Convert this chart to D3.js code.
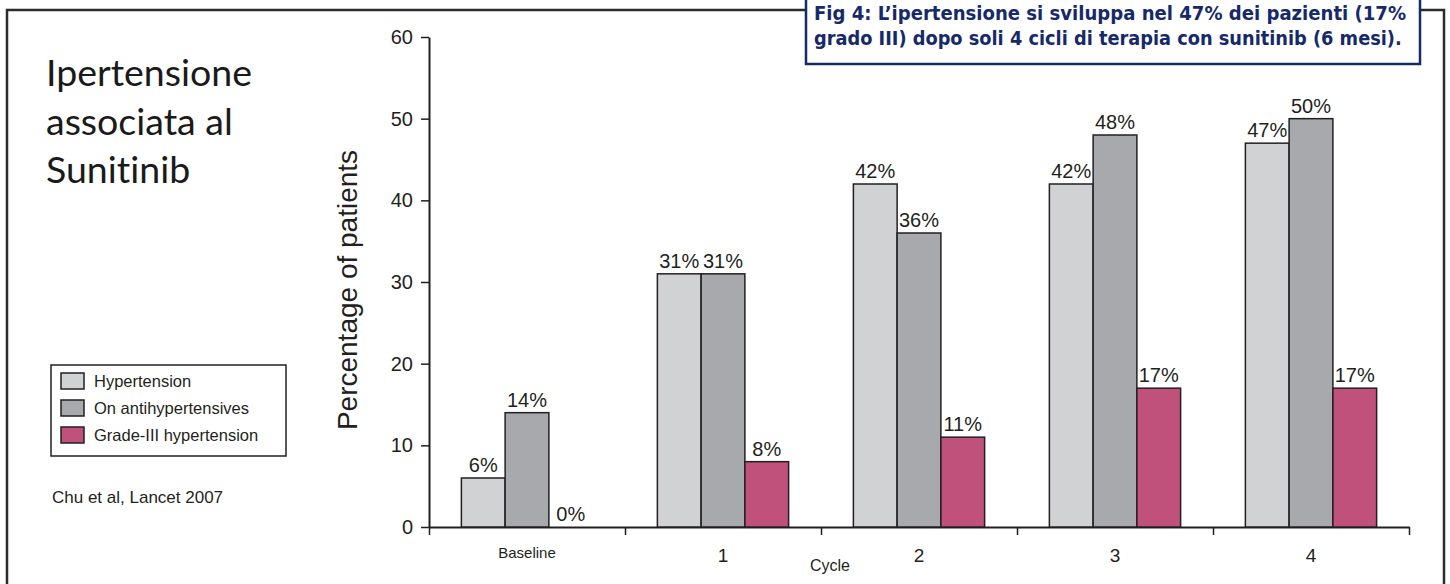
<!DOCTYPE html>
<html>
<head>
<meta charset="utf-8">
<script src="https://cdn.jsdelivr.net/npm/d3@7"></script>
<style>
  html, body { margin: 0; padding: 0; background: #fff; }
  svg { display: block; }
</style>
</head>
<body>
<div id="chart"></div>
<script>
const cycles = ["Baseline", "1", "2", "3", "4"];
const series = ["Hypertension", "On antihypertensives", "Grade-III hypertension"];
const hypertension = [6, 31, 42, 42, 47];
const onAntihyp = [14, 31, 36, 48, 50];
const gradeIII = [0, 8, 11, 17, 17];
const colors = ["#d1d2d4", "#a7a9ac", "#c0517a"];
const yTicks = [0, 10, 20, 30, 40, 50, 60];
const titleLines = ["Ipertensione", "associata al", "Sunitinib"];
const captionLines = [
    "Fig 4: L\u2019ipertensione si sviluppa nel 47% dei pazienti (17%",
    "grado III) dopo soli 4 cicli di terapia con sunitinib (6 mesi)."
];

const W = 1450, H = 584;
const plot = { left: 429, right: 1409, top: 37, bottom: 527 };
const font = "'Liberation Sans', Arial, sans-serif";

const svg = d3.select("#chart").append("svg")
    .attr("width", W)
    .attr("height", H);

svg.append("rect").attr("width", W).attr("height", H).attr("fill", "#fff");

// outer frame
svg.append("rect")
    .attr("x", 7).attr("y", 10)
    .attr("width", 1437).attr("height", 620)
    .attr("fill", "none")
    .attr("stroke", "#2b2b2b")
    .attr("stroke-width", 2.5);

// caption box
svg.append("rect")
    .attr("x", 806).attr("y", -10)
    .attr("width", 614).attr("height", 74)
    .attr("fill", "#fff")
    .attr("stroke", "#16296a")
    .attr("stroke-width", 2.5);

svg.selectAll(".caption")
    .data(captionLines)
    .enter()
    .append("text")
    .attr("x", 814)
    .attr("y", (d, i) => 20 + i * 25)
    .style("font-family", "'DejaVu Sans Condensed', 'DejaVu Sans', sans-serif")
    .style("font-stretch", "condensed")
    .style("font-weight", "bold")
    .style("font-size", "16px")
    .style("fill", "#16296a")
    .text(d => d)
    .each(function (d, i) {
        // fit each line to the box width
        const target = i === 0 ? 592 : 588;
        const len = this.getComputedTextLength();
        const fs = Math.min(20.3, 16 * target / len);
        d3.select(this).style("font-size", fs.toFixed(2) + "px");
    });

// title
svg.selectAll(".title")
    .data(titleLines)
    .enter()
    .append("text")
    .attr("x", 46)
    .attr("y", (d, i) => 86 + i * 48.5)
    .style("font-family", "Lato, 'Noto Sans', sans-serif")
    .style("font-variant-ligatures", "none")
    .style("font-size", "37.5px")
    .style("fill", "#1a1a1a")
    .text(d => d);

// scales
const y = d3.scaleLinear()
    .domain([0, 60])
    .range([plot.bottom, plot.top]);

const x0 = d3.scaleBand()
    .domain(cycles)
    .range([plot.left, plot.right])
    .padding(0);

const x1 = d3.scaleBand()
    .domain(series)
    .range([0, x0.bandwidth()])
    .paddingInner(0)
    .paddingOuter(0.74);

const xb = d3.scaleLinear()
    .domain([0, cycles.length])
    .range([plot.left, plot.right]);

// y axis
const yAxis = svg.append("g")
    .attr("transform", `translate(${plot.left},0)`)
    .call(d3.axisLeft(y).tickValues(yTicks).tickSize(8).tickSizeOuter(0).tickPadding(8));
yAxis.select(".domain").attr("stroke", "#231f20").attr("stroke-width", 2);
yAxis.selectAll(".tick line").attr("stroke", "#231f20").attr("stroke-width", 1.5);
yAxis.selectAll(".tick text")
    .style("font-family", font)
    .style("font-size", "20px")
    .style("fill", "#231f20");

// x axis (ticks at band boundaries)
const xAxis = svg.append("g")
    .attr("transform", `translate(0,${plot.bottom})`)
    .call(d3.axisBottom(xb).ticks(cycles.length).tickSize(8).tickSizeOuter(0).tickFormat(""));
xAxis.select(".domain").attr("stroke", "#231f20").attr("stroke-width", 2);
xAxis.selectAll(".tick line").attr("stroke", "#231f20").attr("stroke-width", 1.5);

svg.selectAll(".xlabel")
    .data(cycles)
    .enter()
    .append("text")
    .attr("x", d => x0(d) + x0.bandwidth() / 2)
    .attr("y", (d, i) => i === 0 ? 558 : 562)
    .attr("text-anchor", "middle")
    .style("font-family", font)
    .style("font-size", (d, i) => i === 0 ? "15px" : "19px")
    .style("fill", "#231f20")
    .text(d => d);

svg.append("text")
    .attr("x", 830)
    .attr("y", 571)
    .attr("text-anchor", "middle")
    .style("font-family", font)
    .style("font-size", "16px")
    .style("fill", "#231f20")
    .text("Cycle");

svg.append("text")
    .attr("transform", `translate(357,${(plot.top + plot.bottom) / 2 + 8}) rotate(-90)`)
    .attr("text-anchor", "middle")
    .style("font-family", font)
    .style("font-size", "28px")
    .style("fill", "#231f20")
    .text("Percentage of patients");

// bars
const values = [hypertension, onAntihyp, gradeIII];
const rows = cycles.map((c, i) => ({
    cycle: c,
    items: series.map((s, j) => ({ s, j, v: values[j][i] }))
}));

const groups = svg.selectAll(".grp")
    .data(rows)
    .enter()
    .append("g")
    .attr("transform", d => `translate(${x0(d.cycle)},0)`);

groups.selectAll("rect")
    .data(d => d.items.filter(e => e.v > 0))
    .enter()
    .append("rect")
    .attr("x", d => x1(d.s))
    .attr("y", d => y(d.v))
    .attr("width", x1.bandwidth())
    .attr("height", d => y(0) - y(d.v))
    .attr("fill", d => colors[d.j])
    .attr("stroke", "#231f20")
    .attr("stroke-width", 1.5);

groups.selectAll(".val")
    .data(d => d.items)
    .enter()
    .append("text")
    .attr("x", d => x1(d.s) + x1.bandwidth() / 2)
    .attr("y", d => y(d.v) - 6)
    .attr("text-anchor", "middle")
    .style("font-family", font)
    .style("font-size", "20px")
    .style("fill", "#231f20")
    .text(d => d.v + "%");

// legend
const legend = svg.append("g");
legend.append("rect")
    .attr("x", 51).attr("y", 365)
    .attr("width", 235).attr("height", 91)
    .attr("fill", "#fff")
    .attr("stroke", "#231f20")
    .attr("stroke-width", 1.5);

const li = legend.selectAll(".li")
    .data(series)
    .enter()
    .append("g")
    .attr("transform", (d, i) => `translate(0,${381 + i * 27})`);

li.append("rect")
    .attr("x", 61).attr("y", -8)
    .attr("width", 23).attr("height", 16)
    .attr("fill", (d, i) => colors[i])
    .attr("stroke", "#231f20")
    .attr("stroke-width", 1.5);

li.append("text")
    .attr("x", 94).attr("y", 6)
    .style("font-family", font)
    .style("font-size", "16.5px")
    .style("fill", "#231f20")
    .text(d => d);

svg.append("text")
    .attr("x", 52).attr("y", 503)
    .style("font-family", font)
    .style("font-size", "17px")
    .style("fill", "#231f20")
    .text("Chu et al, Lancet 2007");
</script>
</body>
</html>
